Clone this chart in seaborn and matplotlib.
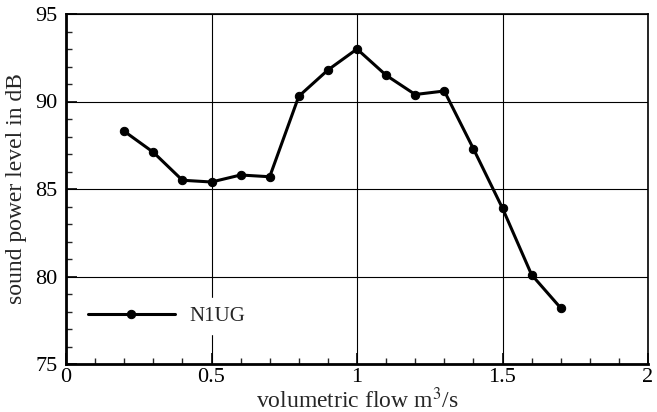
import matplotlib
matplotlib.use("Agg")
import matplotlib.pyplot as plt
import seaborn as sns
import pandas as pd
from matplotlib.ticker import MultipleLocator, FuncFormatter

flow = [0.2, 0.3, 0.4, 0.5, 0.6, 0.7, 0.8, 0.9, 1.0, 1.1, 1.2, 1.3, 1.4, 1.5, 1.6, 1.7]
level = [88.3, 87.1, 85.5, 85.4, 85.8, 85.7, 90.3, 91.8, 93.0, 91.5, 90.4, 90.6, 87.3, 83.9, 80.1, 78.2]
series = "N1UG"

df = pd.DataFrame({"flow": flow, "level": level, "series": series})

sns.set_theme(style="white")
plt.rcParams["font.family"] = ["Liberation Serif", "DejaVu Serif"]
plt.rcParams["mathtext.fontset"] = "stix"

fig = plt.figure(figsize=(6.57, 4.12), dpi=100)
ax = fig.add_axes([66/657, 1-364/412, 582/657, 350/412])

sns.lineplot(data=df, x="flow", y="level", hue="series", palette=["black"],
             marker="o", markersize=6, linewidth=2.2, markeredgecolor="black",
             ax=ax, zorder=3)

ax.set_xlim(0, 2)
ax.set_ylim(75, 95)
ax.xaxis.set_major_locator(MultipleLocator(0.5))
ax.xaxis.set_minor_locator(MultipleLocator(0.1))
ax.yaxis.set_major_locator(MultipleLocator(5))
ax.yaxis.set_minor_locator(MultipleLocator(1))
ax.xaxis.set_major_formatter(FuncFormatter(lambda v, p: f"{v:g}"))
ax.grid(True, which="major", color="black", linewidth=0.8)
ax.tick_params(axis="both", which="major", direction="in", length=8, width=1.2, labelsize=16,
               top=False, right=False, bottom=True, left=True, colors="black")
ax.tick_params(axis="y", which="major", pad=6)
ax.tick_params(axis="x", which="major", pad=3)
ax.tick_params(which="minor", direction="in", length=4, width=1, bottom=True, left=True)
for s in ax.spines.values():
    s.set_color("black")
    s.set_linewidth(1.2)
ax.spines["left"].set_linewidth(2)
ax.spines["bottom"].set_linewidth(2)

ax.set_xlabel("volumetric flow m$^3$/s", fontsize=17, labelpad=0)
ax.set_ylabel("sound power level in dB", fontsize=17, labelpad=6)

leg = ax.legend(loc="lower left", bbox_to_anchor=(0.005, 0.055), frameon=True,
                fontsize=15, handlelength=4.2, handletextpad=0.7, borderpad=0.4)
leg.get_frame().set_edgecolor("white")
leg.get_frame().set_facecolor("white")
leg.get_frame().set_alpha(1)
leg.set_zorder(5)

fig.savefig("out.png", dpi=100)
